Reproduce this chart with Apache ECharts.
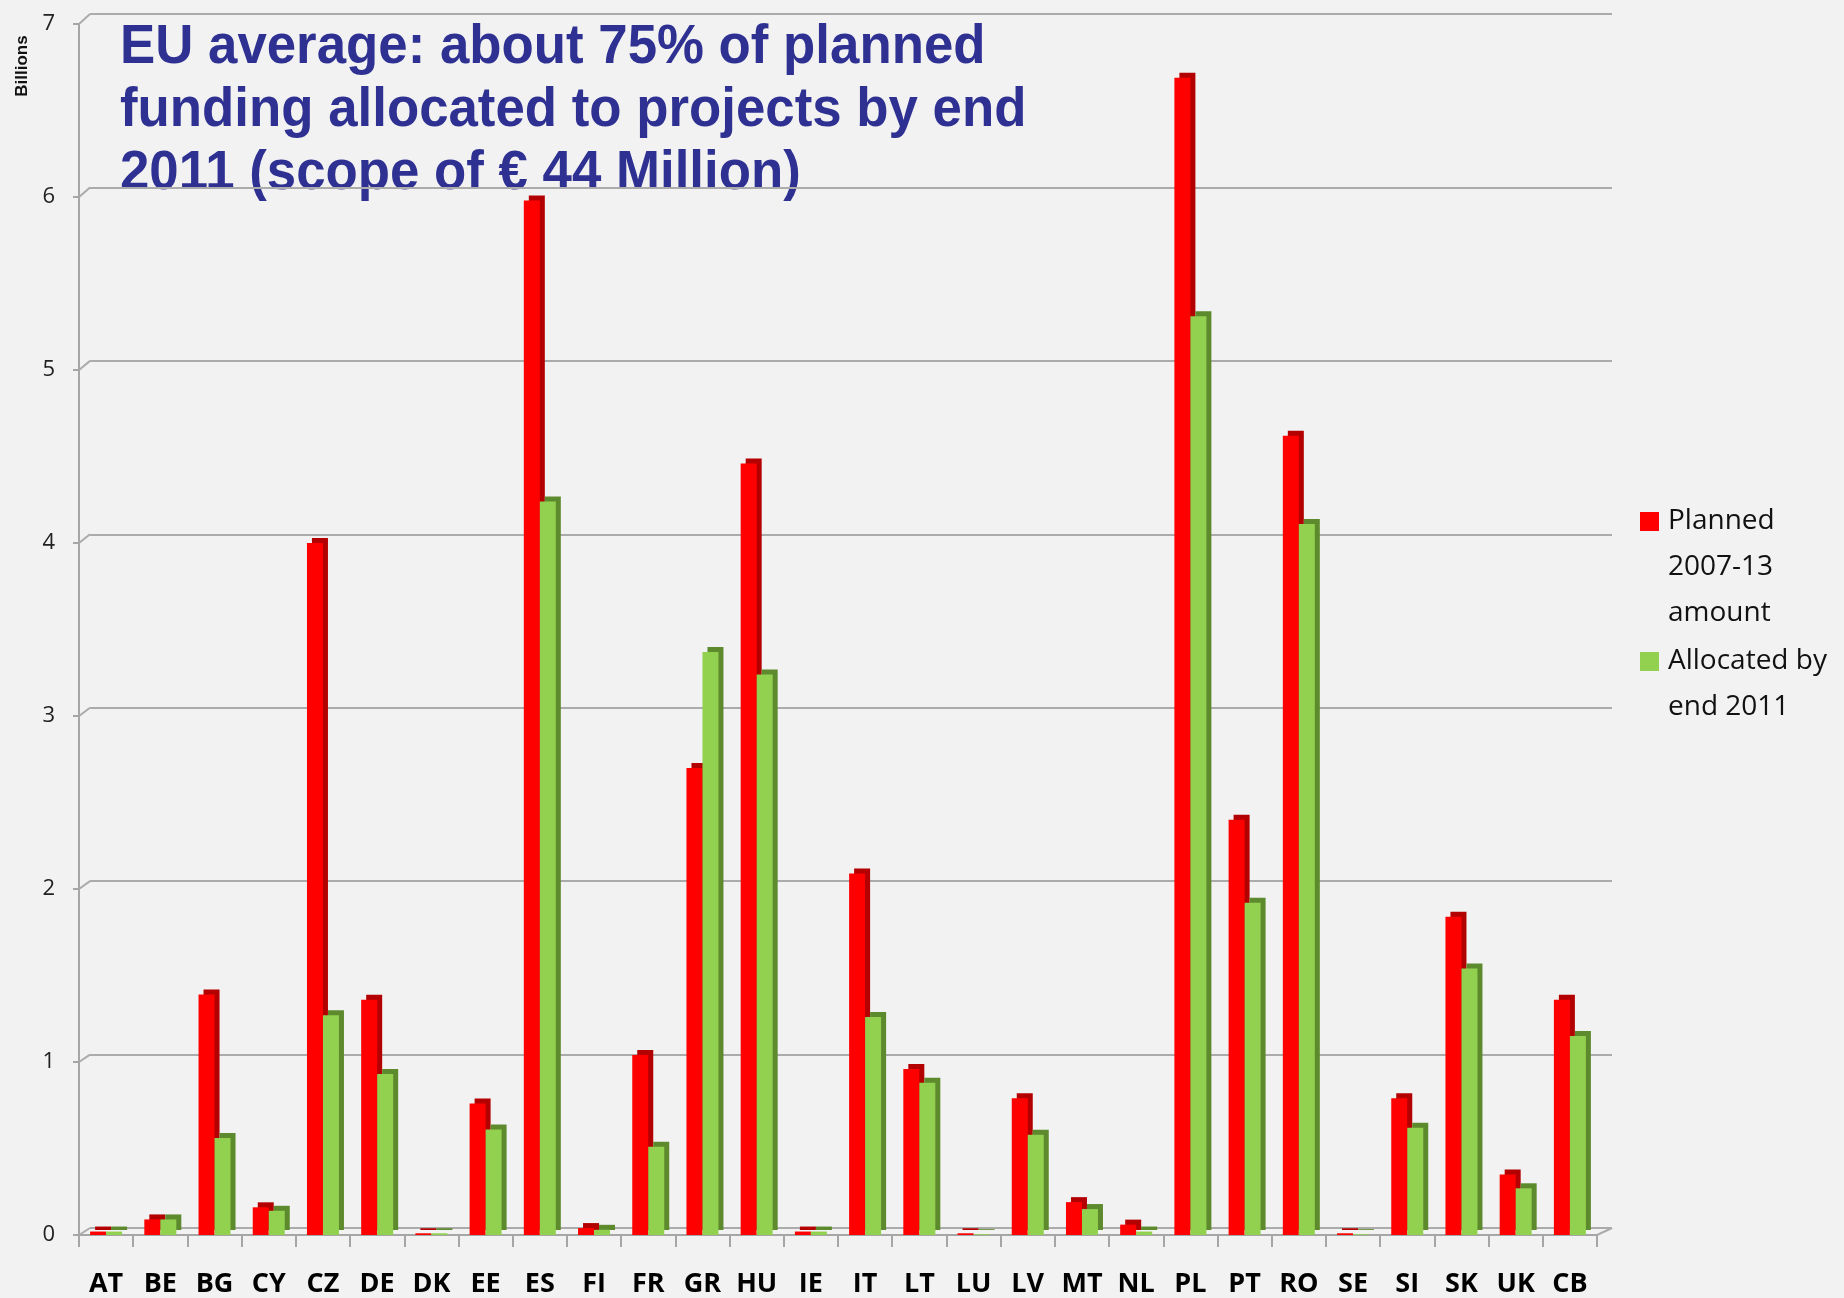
<!DOCTYPE html>
<html><head><meta charset="utf-8">
<script src="https://cdn.jsdelivr.net/npm/echarts@6/dist/echarts.min.js"></script>
<style>html,body{margin:0;padding:0;background:#f2f2f2}#c{width:1844px;height:1298px}</style>
</head><body><div id="c"></div>
<script>
const categories = ['AT','BE','BG','CY','CZ','DE','DK','EE','ES','FI','FR','GR','HU','IE','IT','LT','LU','LV','MT','NL','PL','PT','RO','SE','SI','SK','UK','CB'];
const planned =   [0.02,0.09,1.39,0.16,4.00,1.36,0.01,0.76,5.98,0.04,1.04,2.70,4.46,0.02,2.09,0.96,0.01,0.79,0.19,0.06,6.69,2.40,4.62,0.01,0.79,1.84,0.35,1.36];
const allocated = [0.02,0.09,0.56,0.14,1.27,0.93,0.01,0.61,4.24,0.03,0.51,3.37,3.24,0.02,1.26,0.88,0.005,0.58,0.15,0.02,5.31,1.92,4.11,0.005,0.62,1.54,0.27,1.15];
const yTicks = [0,1,2,3,4,5,6,7];
const seriesNames = ['Planned\n2007-13\namount','Allocated by\nend 2011'];
const titleLines = ['EU average: about 75% of planned','funding allocated to projects by end','2011 (scope of € 44 Million)'];

const chart = echarts.init(document.getElementById('c'));
const frontGrid = {left:79, right:247, top:24, bottom:60};
const backGrid = {left:90, right:232, top:14, bottom:70};
chart.setOption({
  backgroundColor:'#f2f2f2',
  animation:false,
  grid:[backGrid, frontGrid],
  xAxis:[
    {gridIndex:0, type:'category', data:categories, show:false},
    {gridIndex:1, type:'category', data:categories,
     axisLine:{lineStyle:{color:'#a6a6a6', width:2}},
     axisTick:{show:true, interval:0, length:12, lineStyle:{color:'#a6a6a6', width:2}},
     axisLabel:{interval:0, hideOverlap:false, color:'#000', fontSize:27, fontWeight:'bold', fontFamily:'Open Sans', margin:36}}
  ],
  yAxis:[
    {gridIndex:0, type:'value', min:yTicks[0], max:yTicks[yTicks.length-1], interval:1,
     axisLabel:{show:false}, axisLine:{show:false}, axisTick:{show:false},
     splitLine:{lineStyle:{color:'#ababab', width:2}}},
    {gridIndex:1, type:'value', min:yTicks[0], max:yTicks[yTicks.length-1], interval:1,
     axisLine:{show:true, lineStyle:{color:'#a6a6a6', width:2}},
     axisTick:{show:true, length:6, lineStyle:{color:'#a6a6a6', width:2}},
     splitLine:{show:false},
     axisLabel:{color:'#222', fontSize:22, fontFamily:'Open Sans', margin:24}}
  ],
  series:[
    {name:seriesNames[0], type:'bar', xAxisIndex:1, yAxisIndex:1, data:planned,
     barWidth:16, barGap:'0%',
     itemStyle:{color:'#ff0000', shadowColor:'#b30000', shadowOffsetX:5, shadowOffsetY:-5, shadowBlur:0},
     emphasis:{disabled:true}},
    {name:seriesNames[1], type:'bar', xAxisIndex:1, yAxisIndex:1, data:allocated,
     barWidth:16, barGap:'0%',
     itemStyle:{color:'#92d050', shadowColor:'#5e8a2e', shadowOffsetX:5, shadowOffsetY:-5, shadowBlur:0},
     emphasis:{disabled:true}}
  ],
  graphic:[
    {type:'text', x:22, y:66, rotation:Math.PI/2,
     style:{text:'Billions', font:'bold 17px "Liberation Sans"', fill:'#111', align:'center', verticalAlign:'middle'}},
    {type:'text', x:120, y:16, scaleX:0.96,
     style:{text:titleLines.join('\n'), font:'bold 55px "Liberation Sans"', fill:'#2e3192', lineHeight:63}},
    {type:'rect', shape:{x:1640, y:512, width:19, height:19}, style:{fill:'#ff0000'}},
    {type:'text', x:1668, y:498, style:{text:seriesNames[0], font:'28px "Open Sans"', fill:'#111', lineHeight:46}},
    {type:'rect', shape:{x:1640, y:652, width:19, height:19}, style:{fill:'#92d050'}},
    {type:'text', x:1668, y:638, style:{text:seriesNames[1], font:'28px "Open Sans"', fill:'#111', lineHeight:46}}
  ]
});
// short diagonal connectors from front axis ticks to the back-wall grid lines
const conn = yTicks.map(v => {
  const p = chart.convertToPixel({xAxisIndex:1, yAxisIndex:1}, [0, v]);
  const q = chart.convertToPixel({xAxisIndex:0, yAxisIndex:0}, [0, v]);
  return {type:'line', shape:{x1:frontGrid.left, y1:p[1], x2:backGrid.left, y2:q[1]}, style:{stroke:'#ababab', lineWidth:2}, z:-1};
});
const p0 = chart.convertToPixel({xAxisIndex:1, yAxisIndex:1}, [0, 0]);
const q0 = chart.convertToPixel({xAxisIndex:0, yAxisIndex:0}, [0, 0]);
conn.push({type:'line', shape:{x1:1844-frontGrid.right, y1:p0[1], x2:1844-backGrid.right, y2:q0[1]}, style:{stroke:'#ababab', lineWidth:2}, z:-1});
const opt = chart.getOption();
chart.setOption({graphic: opt.graphic[0].elements.concat(conn)}, {replaceMerge:[]});
</script></body></html>
